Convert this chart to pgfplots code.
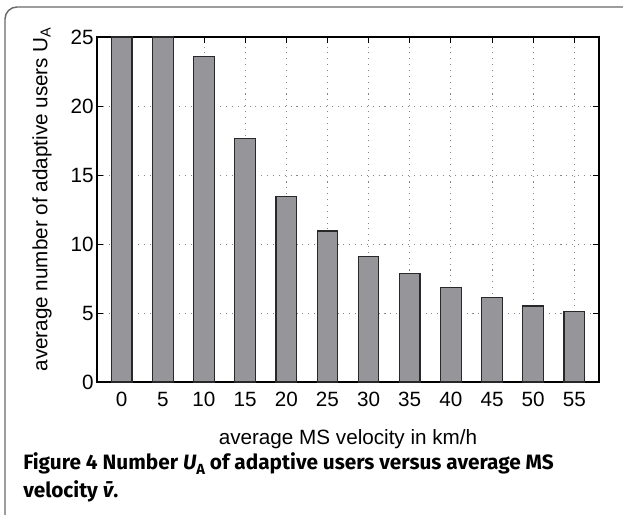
\documentclass[border=0pt]{standalone}
\usepackage{pgfplots}
\pgfplotsset{compat=1.18}
\usepackage{fontspec}
\setmainfont{Liberation Sans}
\newfontfamily\capfont{Fira Sans}
\definecolor{barfill}{RGB}{149,149,154}
\definecolor{baredge}{RGB}{40,40,40}
\definecolor{framecol}{RGB}{105,105,105}
\definecolor{gridcol}{RGB}{135,135,135}
\pgfplotstableread{
idx v
0 25
1 25
2 23.57
3 17.62
4 13.46
5 10.94
6 9.11
7 7.84
8 6.84
9 6.11
10 5.51
11 5.09
}\datatable
\begin{document}
\begin{tikzpicture}[x=0.75pt,y=0.75pt]
\useasboundingbox (0,0) rectangle (623,514);
\begin{scope}
\clip (0,0) rectangle (623,514);
\draw[framecol, line width=1.1pt, rounded corners=9] (5,-30) -- (5,507) -- (660,507);
\end{scope}
\begin{axis}[
  at={(72.75pt,99pt)}, anchor=south west,
  scale only axis, width=376.5pt, height=258.75pt,
  xmin=-0.6, xmax=11.6, ymin=0, ymax=25,
  xtick={0,1,...,11}, xticklabels={0,5,10,15,20,25,30,35,40,45,50,55},
  ytick={0,5,10,15,20,25},
  ybar, bar width=0.5,
  grid=major,
  major grid style={gridcol, line width=0.7pt, dash pattern=on 0.8pt off 3.6pt},
  tick align=inside, tick pos=both, major tick length=4.5pt,
  tick style={black, line width=0.7pt},
  axis line style={black, line width=0.8pt},
  /pgf/number format/assume math mode=true,
  ticklabel style={font=\fontsize{15.5}{18}\selectfont},
  xticklabel style={yshift=-4pt},
  yticklabel style={xshift=1pt},
  label style={font=\fontsize{15.5}{18}\selectfont},
  xlabel={average MS velocity in km/h},
  ylabel={average number of adaptive users U\textsubscript{A}},
  xlabel style={at={(axis description cs:0.5,-0.1652)}, anchor=center},
  ylabel style={at={(axis description cs:-0.1095,0.53)}, anchor=center, rotate=0},
  clip=true,
]
\addplot[fill=barfill, draw=baredge, line width=0.9pt] table[x=idx,y=v] {\datatable};
\end{axis}
\node[anchor=base west, inner sep=0pt, font=\capfont\bfseries\fontsize{15.6}{21}\selectfont] at (23,45) {Figure 4 Number {\itshape U}\raisebox{-0.25em}{\fontsize{11}{12}\selectfont A} of adaptive users versus average MS};
\node[anchor=base west, inner sep=0pt, font=\capfont\bfseries\fontsize{15.6}{21}\selectfont] at (23,17) {velocity {\itshape\=v}.};
\end{tikzpicture}
\end{document}
